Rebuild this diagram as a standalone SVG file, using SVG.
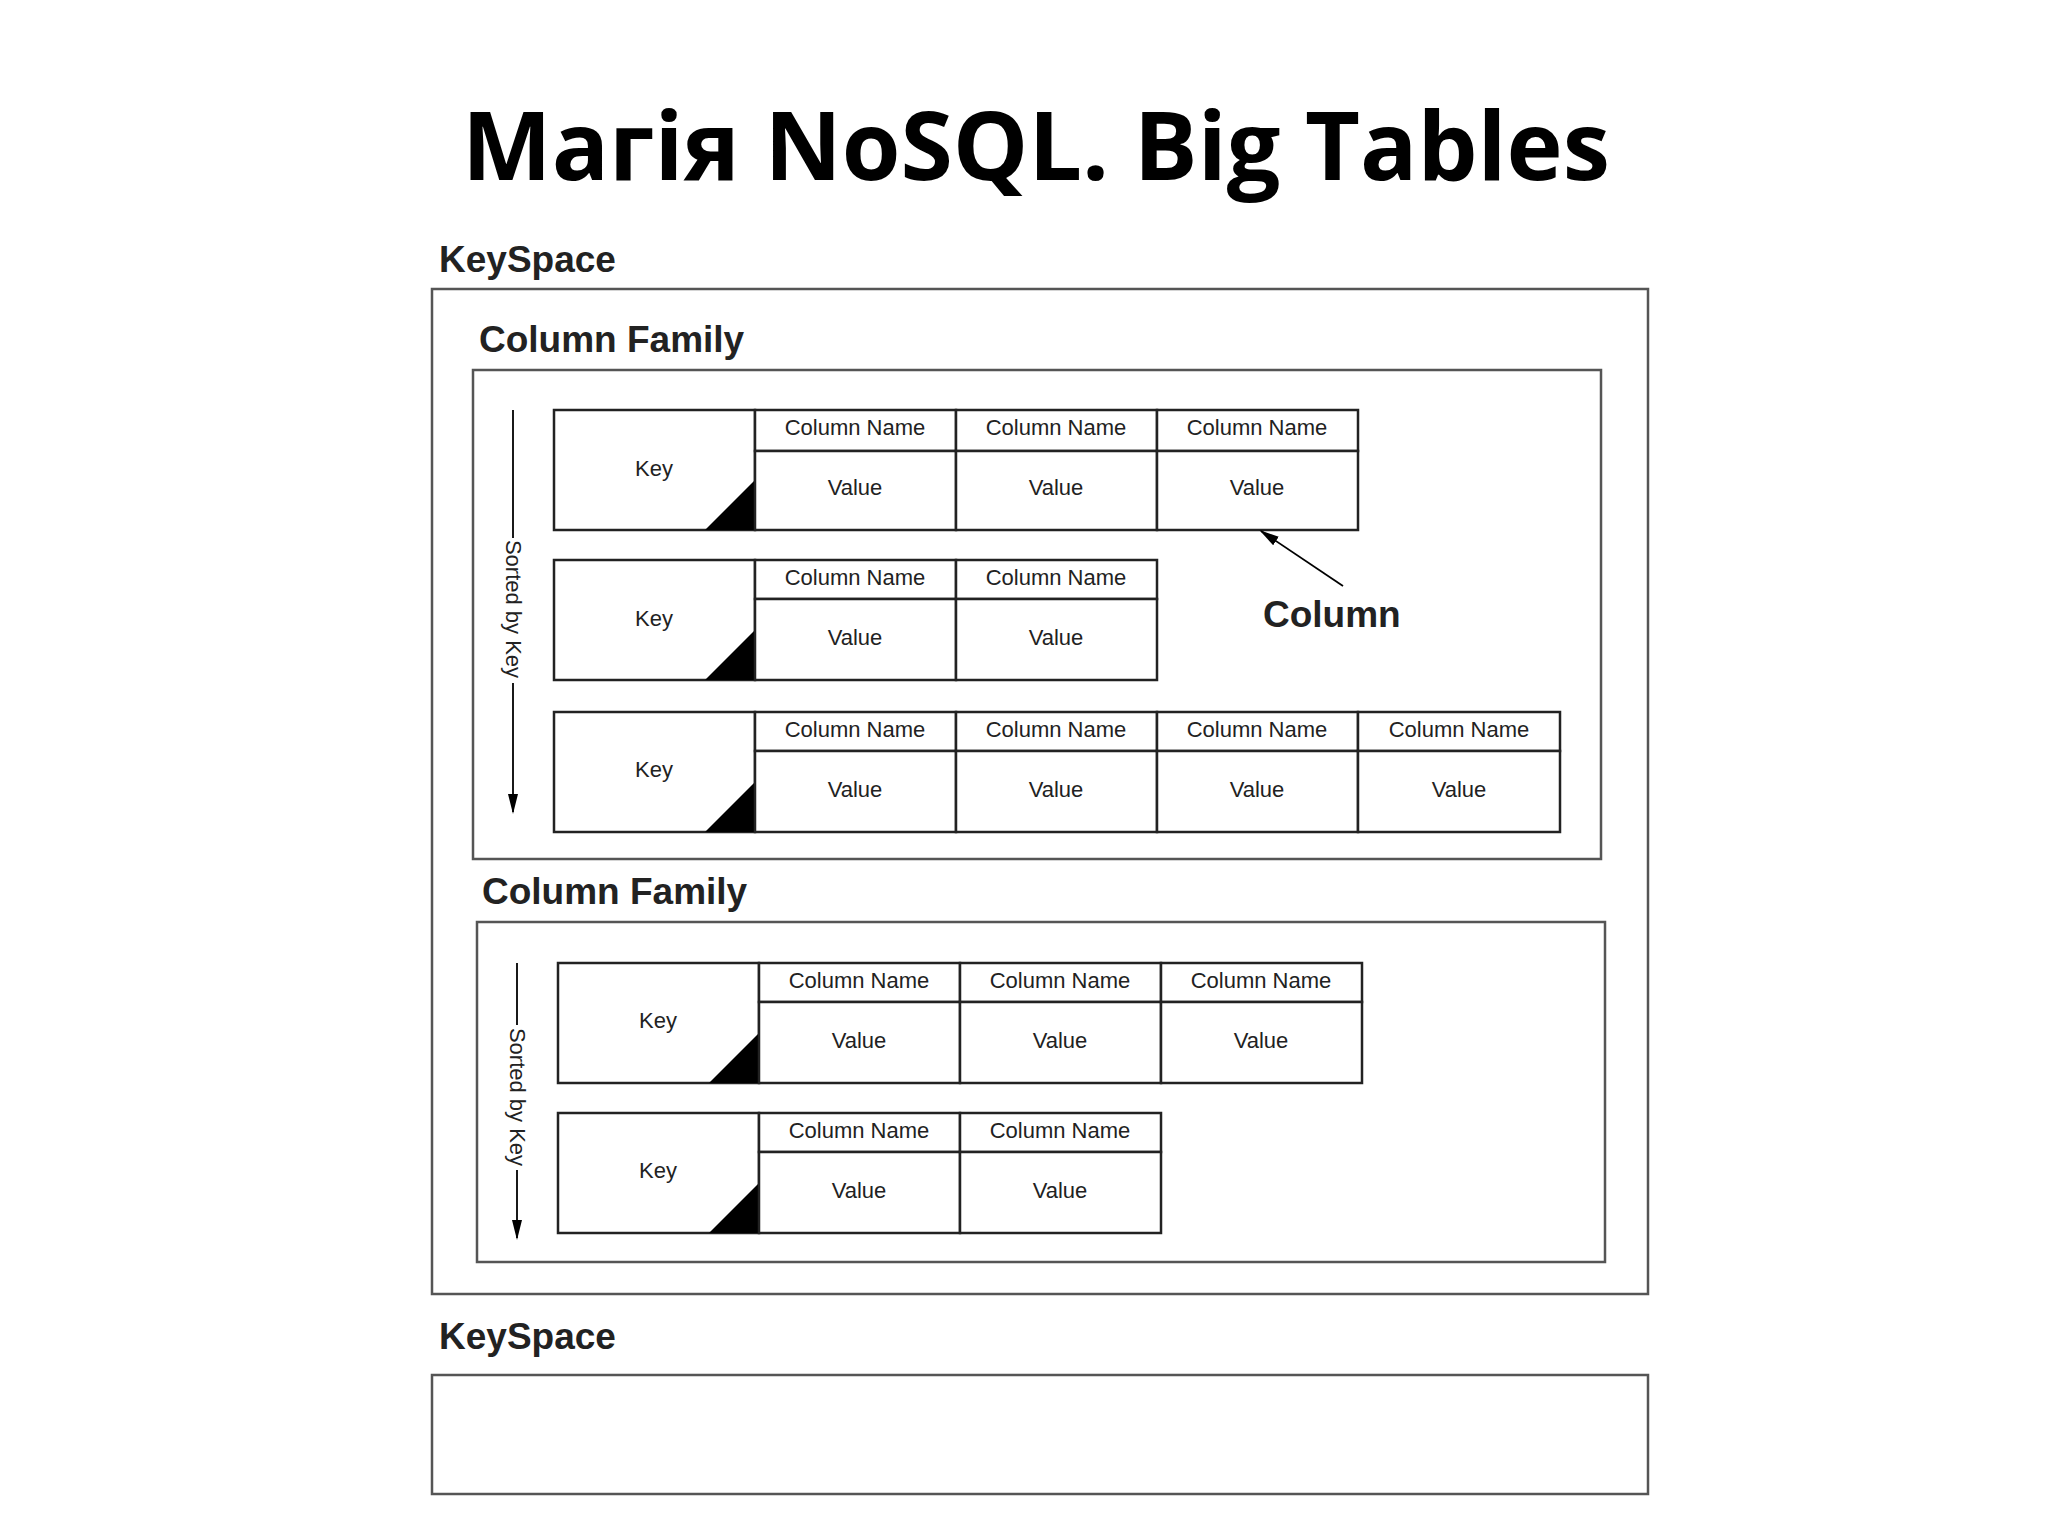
<svg xmlns="http://www.w3.org/2000/svg" width="2048" height="1536" viewBox="0 0 2048 1536">
<style>
.box{fill:none;stroke:#555;stroke-width:2.5}
.cell{fill:#fff;stroke:#222;stroke-width:2.5}
.t{font-family:"Liberation Sans",Arial,sans-serif;font-size:22px;fill:#222;text-anchor:middle}
.h{font-family:"Liberation Sans",Arial,sans-serif;font-weight:bold;font-size:37px;fill:#222}
.tri{fill:#000}
</style>
<defs>
<marker id="ah" viewBox="0 0 10 10" refX="9" refY="5" markerWidth="10" markerHeight="10" markerUnits="userSpaceOnUse" orient="auto-start-reverse"><path d="M0,1.5 L10,5 L0,8.5 z" fill="#000"/></marker>
<marker id="ahb" viewBox="0 0 10 10" refX="9" refY="5" markerWidth="20" markerHeight="20" markerUnits="userSpaceOnUse" orient="auto-start-reverse"><path d="M0,2.5 L10,5 L0,7.5 z" fill="#000"/></marker>
</defs>
<rect width="2048" height="1536" fill="#fff"/>
<text x="1036" y="180" font-family="'Open Sans','Noto Sans',sans-serif" font-weight="bold" font-size="95" text-anchor="middle" fill="#000">Магія NoSQL. Big Tables</text>

<g id="keyspace1">
<text class="h" x="439" y="272">KeySpace</text>
<rect class="box" x="432" y="289" width="1216" height="1005"/>
</g>
<g id="cf1">
<text class="h" x="479" y="352">Column Family</text>
<rect class="box" x="473" y="370" width="1128" height="489"/>
</g>
<g id="row1">
<rect class="cell" x="554" y="410" width="201" height="120"/><polygon class="tri" points="705,530 755,530 755,480"/><text class="t" x="654" y="476">Key</text>
<rect class="cell" x="755" y="410" width="201" height="41"/><rect class="cell" x="755" y="451" width="201" height="79"/>
<rect class="cell" x="956" y="410" width="201" height="41"/><rect class="cell" x="956" y="451" width="201" height="79"/>
<rect class="cell" x="1157" y="410" width="201" height="41"/><rect class="cell" x="1157" y="451" width="201" height="79"/>
<text class="t" x="855" y="435">Column Name</text><text class="t" x="1056" y="435">Column Name</text><text class="t" x="1257" y="435">Column Name</text>
<text class="t" x="855" y="495">Value</text><text class="t" x="1056" y="495">Value</text><text class="t" x="1257" y="495">Value</text>
</g>
<g id="row2">
<rect class="cell" x="554" y="560" width="201" height="120"/><polygon class="tri" points="705,680 755,680 755,630"/><text class="t" x="654" y="626">Key</text>
<rect class="cell" x="755" y="560" width="201" height="39"/><rect class="cell" x="755" y="599" width="201" height="81"/>
<rect class="cell" x="956" y="560" width="201" height="39"/><rect class="cell" x="956" y="599" width="201" height="81"/>
<text class="t" x="855" y="585">Column Name</text><text class="t" x="1056" y="585">Column Name</text>
<text class="t" x="855" y="645">Value</text><text class="t" x="1056" y="645">Value</text>
</g>
<g id="row3">
<rect class="cell" x="554" y="712" width="201" height="120"/><polygon class="tri" points="705,832 755,832 755,782"/><text class="t" x="654" y="777">Key</text>
<rect class="cell" x="755" y="712" width="201" height="39"/><rect class="cell" x="755" y="751" width="201" height="81"/>
<rect class="cell" x="956" y="712" width="201" height="39"/><rect class="cell" x="956" y="751" width="201" height="81"/>
<rect class="cell" x="1157" y="712" width="201" height="39"/><rect class="cell" x="1157" y="751" width="201" height="81"/>
<rect class="cell" x="1358" y="712" width="202" height="39"/><rect class="cell" x="1358" y="751" width="202" height="81"/>
<text class="t" x="855" y="737">Column Name</text><text class="t" x="1056" y="737">Column Name</text><text class="t" x="1257" y="737">Column Name</text><text class="t" x="1459" y="737">Column Name</text>
<text class="t" x="855" y="797">Value</text><text class="t" x="1056" y="797">Value</text><text class="t" x="1257" y="797">Value</text><text class="t" x="1459" y="797">Value</text>
</g>
<g id="column-label">
<text class="h" x="1263" y="627" font-size="39">Column</text>
</g>

<g id="cf2">
<text class="h" x="482" y="904">Column Family</text>
<rect class="box" x="477" y="922" width="1128" height="340"/>
</g>
<g id="row4">
<rect class="cell" x="558" y="963" width="201" height="120"/><polygon class="tri" points="709,1083 759,1083 759,1033"/><text class="t" x="658" y="1028">Key</text>
<rect class="cell" x="759" y="963" width="201" height="39"/><rect class="cell" x="759" y="1002" width="201" height="81"/>
<rect class="cell" x="960" y="963" width="201" height="39"/><rect class="cell" x="960" y="1002" width="201" height="81"/>
<rect class="cell" x="1161" y="963" width="201" height="39"/><rect class="cell" x="1161" y="1002" width="201" height="81"/>
<text class="t" x="859" y="988">Column Name</text><text class="t" x="1060" y="988">Column Name</text><text class="t" x="1261" y="988">Column Name</text>
<text class="t" x="859" y="1048">Value</text><text class="t" x="1060" y="1048">Value</text><text class="t" x="1261" y="1048">Value</text>
</g>
<g id="row5">
<rect class="cell" x="558" y="1113" width="201" height="120"/><polygon class="tri" points="709,1233 759,1233 759,1183"/><text class="t" x="658" y="1178">Key</text>
<rect class="cell" x="759" y="1113" width="201" height="39"/><rect class="cell" x="759" y="1152" width="201" height="81"/>
<rect class="cell" x="960" y="1113" width="201" height="39"/><rect class="cell" x="960" y="1152" width="201" height="81"/>
<text class="t" x="859" y="1138">Column Name</text><text class="t" x="1060" y="1138">Column Name</text>
<text class="t" x="859" y="1198">Value</text><text class="t" x="1060" y="1198">Value</text>
</g>

<g id="keyspace2">
<text class="h" x="439" y="1349">KeySpace</text>
<rect class="box" x="432" y="1375" width="1216" height="119"/>
</g>

<g id="connectors" stroke="#000" stroke-width="1.8" fill="none">
<line x1="513" y1="410" x2="513" y2="812" marker-end="url(#ahb)"/>
<line x1="517" y1="963" x2="517" y2="1238" marker-end="url(#ahb)"/>
<line x1="1343" y1="586" x2="1261" y2="531" marker-end="url(#ahb)"/>
</g>
<g id="sort-labels">
<rect x="503" y="538" width="20" height="145" fill="#fff"/>
<text class="t" transform="translate(506,609) rotate(90)">Sorted by Key</text>
<rect x="507" y="1025" width="20" height="145" fill="#fff"/>
<text class="t" transform="translate(510,1097) rotate(90)">Sorted by Key</text>
</g>
</svg>
